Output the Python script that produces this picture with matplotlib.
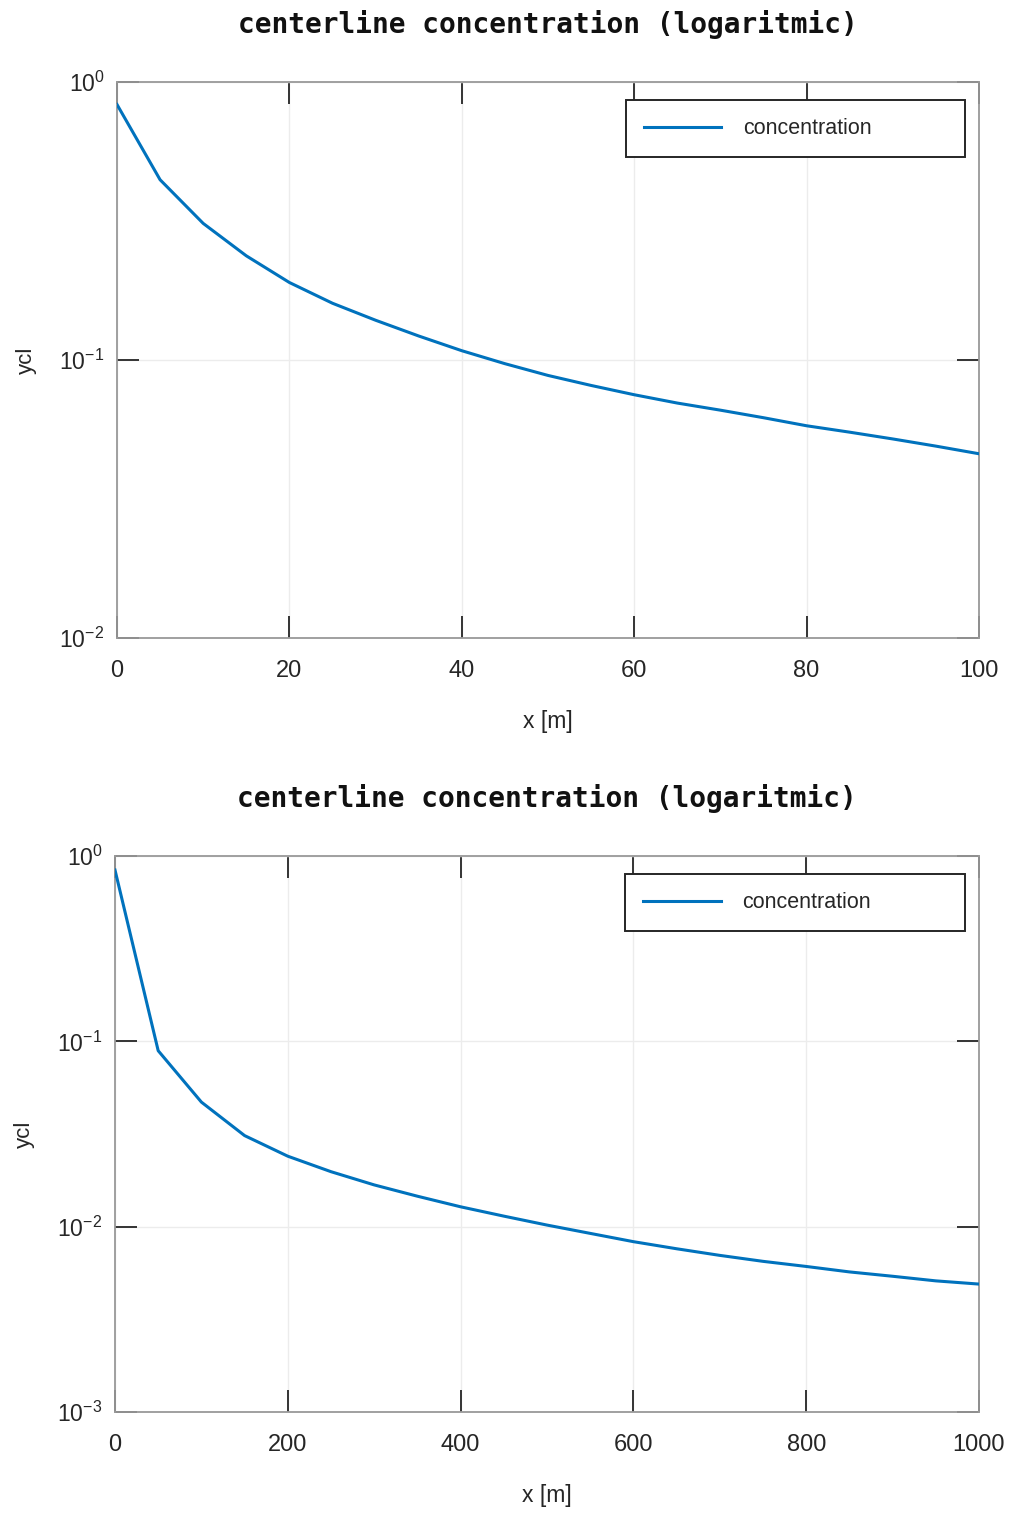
import matplotlib
matplotlib.use("Agg")
import matplotlib.pyplot as plt
from matplotlib.ticker import LogLocator, NullLocator, FixedLocator, FuncFormatter
import numpy as np

# ---- data ----
x_top = [0, 5, 10, 15, 20, 25, 30, 35, 40, 45, 50, 55, 60, 65, 70, 75, 80, 85, 90, 95, 100]
ycl_top = [0.83, 0.445, 0.31, 0.237, 0.19, 0.16, 0.139, 0.122, 0.108, 0.097, 0.088,
           0.081, 0.075, 0.070, 0.066, 0.062, 0.058, 0.055, 0.052, 0.049, 0.046]

x_bot = [0, 50, 100, 150, 200, 250, 300, 350, 400, 450, 500, 550, 600, 650, 700,
         750, 800, 850, 900, 950, 1000]
ycl_bot = [0.84, 0.089, 0.047, 0.031, 0.024, 0.0198, 0.0168, 0.0146, 0.0128, 0.0114,
           0.0102, 0.0092, 0.0083, 0.0076, 0.0070, 0.0065, 0.0061, 0.0057, 0.0054,
           0.0051, 0.0049]

xticks_top = [0, 20, 40, 60, 80, 100]
xticks_bot = [0, 200, 400, 600, 800, 1000]
ylim_top = (1e-2, 1e0)
ylim_bot = (1e-3, 1e0)

title_text = "centerline concentration (logaritmic)"
legend_label = "concentration"
xlabel_text = "x [m]"
ylabel_text = "ycl"

# ---- style ----
plt.rcParams['font.family'] = ['Liberation Sans', 'DejaVu Sans']
plt.rcParams['axes.unicode_minus'] = False
LINE_C = '#0072BD'
TXT_C = '#262626'
SPINE_C = '#999999'


def log_fmt(v, pos):
    e = int(round(np.log10(v)))
    return r'$\mathdefault{10^{%d}}$' % e


fig = plt.figure(figsize=(10.12, 15.16), dpi=100)


def style_axes(ax, x, y, xticks, ylim):
    ax.plot(x, y, color=LINE_C, lw=2.2, label=legend_label, zorder=3)
    ax.set_yscale('log')
    ax.set_xlim(xticks[0], xticks[-1])
    ax.set_ylim(*ylim)
    ax.xaxis.set_major_locator(FixedLocator(xticks))
    ax.yaxis.set_major_locator(LogLocator(base=10, numticks=10))
    ax.yaxis.set_minor_locator(NullLocator())
    ax.yaxis.set_major_formatter(FuncFormatter(log_fmt))
    ax.grid(True, which='major', color='#ececec', lw=1.0, zorder=0)
    for s in ax.spines.values():
        s.set_color(SPINE_C)
        s.set_linewidth(1.3)
    ax.tick_params(axis='both', which='major', direction='in', length=16, width=1.4,
                   color='#333333', top=True, right=True, labelcolor=TXT_C)
    ax.tick_params(axis='x', pad=16, labelsize=17)
    ax.tick_params(axis='y', pad=9, labelsize=16.5)
    ax.set_xlabel(xlabel_text, fontsize=16.5, color=TXT_C, labelpad=20)
    ax.set_ylabel(ylabel_text, fontsize=16, color=TXT_C, labelpad=16)
    ax.set_title(title_text, fontsize=20, fontweight='bold', family='DejaVu Sans Mono',
                 color='#111111', pad=35)
    leg = ax.legend(loc='upper right', bbox_to_anchor=(0.59, 0.872, 0.394, 0.096),
                    mode='expand', fancybox=False, framealpha=1, edgecolor='#262626',
                    fontsize=15.5, handlelength=3.6, handletextpad=1.0,
                    borderpad=0.85, borderaxespad=0.0)
    leg.get_frame().set_linewidth(1.4)
    for t in leg.get_texts():
        t.set_color(TXT_C)


ax1 = fig.add_axes([117/1012, 1-638/1516, 862/1012, 556/1516])
style_axes(ax1, x_top, ycl_top, xticks_top, ylim_top)

ax2 = fig.add_axes([115/1012, 1-1412/1516, 864/1012, 556/1516])
style_axes(ax2, x_bot, ycl_bot, xticks_bot, ylim_bot)

fig.savefig('out.png', dpi=100, facecolor='white')
